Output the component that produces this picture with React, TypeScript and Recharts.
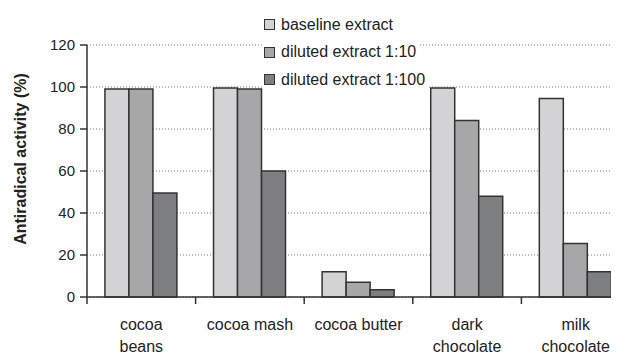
import React from 'react'
import { BarChart, Bar, XAxis, YAxis, CartesianGrid, Legend, Label } from 'recharts'

const categories = ['cocoa beans', 'cocoa mash', 'cocoa butter', 'dark chocolate', 'milk chocolate']
const tickLabels = [['cocoa', 'beans'], ['cocoa mash'], ['cocoa butter'], ['dark', 'chocolate'], ['milk', 'chocolate']]
const baseline = [99, 99.5, 12, 99.5, 94.5]
const diluted10 = [99, 99, 7, 84, 25.5]
const diluted100 = [49.5, 60, 3.5, 48, 12]
const seriesNames = ['baseline extract', 'diluted extract 1:10', 'diluted extract 1:100']
const seriesColors = ['#d3d3d5', '#a7a7aa', '#7d7e81']
const yTicks = [0, 20, 40, 60, 80, 100, 120]
const yTitle = 'Antiradical activity (%)'

const data = categories.map((name, i) => ({
  name,
  baseline: baseline[i],
  d10: diluted10[i],
  d100: diluted100[i],
}))

const font = '"Liberation Sans", Arial, sans-serif'

// category label plus the small tick marks on the band edges
const CatTick = (props: any) => {
  const { x, y, payload, width, index } = props
  const band = width / categories.length
  const lines = tickLabels[payload.index ?? index] || [payload.value]
  const axisY = y - 8
  return (
    <g>
      <line x1={x - band / 2} x2={x - band / 2} y1={axisY} y2={axisY + 7} stroke="#333" strokeWidth={1.5} />
      {index === categories.length - 1 && (
        <line x1={x + band / 2} x2={x + band / 2} y1={axisY} y2={axisY + 7} stroke="#333" strokeWidth={1.5} />
      )}
      <text x={x} y={axisY + 33} textAnchor="middle" fill="#222" fontSize={16} fontFamily={font}>
        {lines.map((l: string, i: number) => (
          <tspan key={i} x={x} dy={i === 0 ? 0 : 22}>{l}</tspan>
        ))}
      </text>
    </g>
  )
}

const YTitle = (props: any) => {
  const { viewBox } = props
  const cx = viewBox.x + 18
  const cy = viewBox.y + viewBox.height / 2 - 12
  return (
    <text
      x={cx}
      y={cy}
      transform={`rotate(-90, ${cx}, ${cy})`}
      textAnchor="middle"
      fontWeight="bold"
      fontSize={16}
      fontFamily={font}
      fill="#222"
    >
      {yTitle}
    </text>
  )
}

const LegendBox = () => (
  <div style={{ fontFamily: font, fontSize: 16, color: '#222' }}>
    {seriesNames.map((n, i) => (
      <div key={n} style={{ height: 27.5, display: 'flex', alignItems: 'center' }}>
        <div style={{ display: 'inline-flex', alignItems: 'center', background: '#fff', paddingRight: 2 }}>
          <span style={{ width: 9, height: 9, background: seriesColors[i], border: '1px solid #333', marginRight: 6 }} />
          <span>{n}</span>
        </div>
      </div>
    ))}
  </div>
)

export default function App() {
  return (
    <div style={{ width: 611, height: 346, overflow: 'hidden' }}>
      <BarChart
        width={632}
        height={346}
        data={data}
        margin={{ top: 37, right: 10, left: 0, bottom: 7 }}
        barCategoryGap="16.5%"
        barGap={0}
      >
        <CartesianGrid vertical={false} stroke="#777" strokeDasharray="1 2" />
        <XAxis
          dataKey="name"
          tick={<CatTick />}
          tickLine={false}
          axisLine={{ stroke: '#333', strokeWidth: 1.5 }}
          height={50}
          interval={0}
        />
        <YAxis
          domain={[0, 120]}
          ticks={yTicks}
          width={79}
          tickSize={7}
          tickMargin={5}
          axisLine={{ stroke: '#333', strokeWidth: 1.5 }}
          tickLine={{ stroke: '#333', strokeWidth: 1.5 }}
          tick={{ fill: '#222', fontSize: 15, fontFamily: font }}
        >
          <Label content={<YTitle />} />
        </YAxis>
        <Legend
          layout="vertical"
          align="center"
          verticalAlign="middle"
          content={<LegendBox />}
          wrapperStyle={{ top: 3, left: 256, width: 'auto' }}
        />
        <Bar dataKey="baseline" name={seriesNames[0]} fill={seriesColors[0]} stroke="#333" strokeWidth={1.5} isAnimationActive={false} />
        <Bar dataKey="d10" name={seriesNames[1]} fill={seriesColors[1]} stroke="#333" strokeWidth={1.5} isAnimationActive={false} />
        <Bar dataKey="d100" name={seriesNames[2]} fill={seriesColors[2]} stroke="#333" strokeWidth={1.5} isAnimationActive={false} />
      </BarChart>
    </div>
  )
}
